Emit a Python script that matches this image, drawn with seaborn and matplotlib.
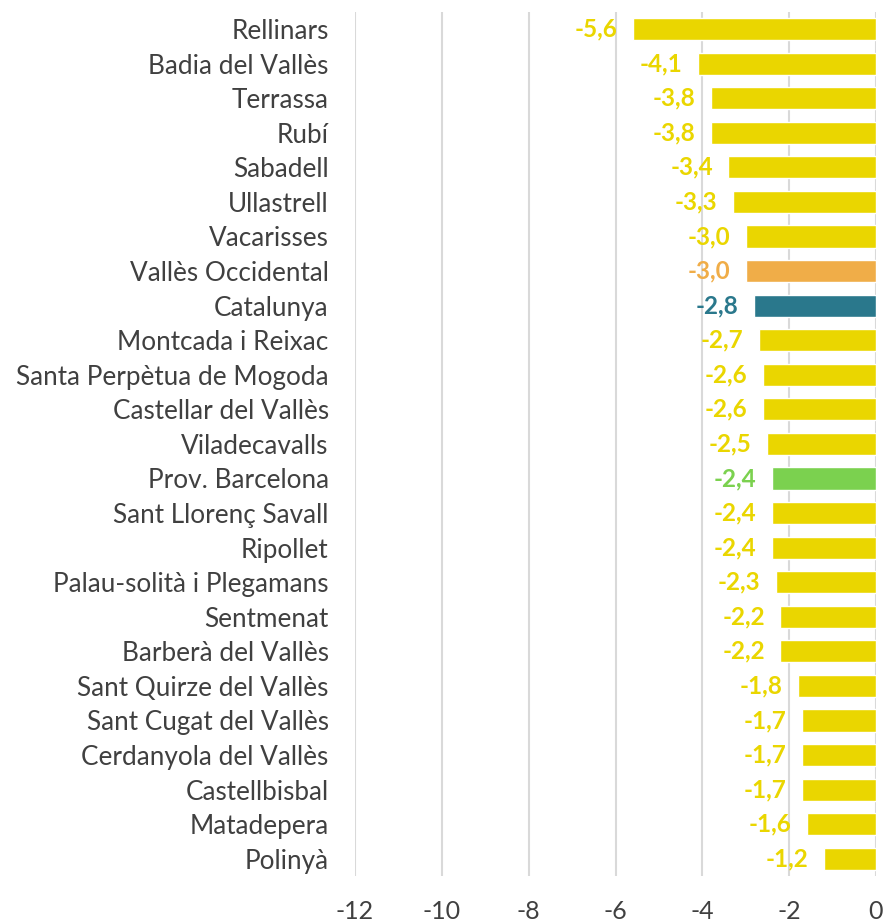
import matplotlib
matplotlib.use("Agg")
import matplotlib.pyplot as plt
import seaborn as sns
import pandas as pd

municipis = [
    "Rellinars", "Badia del Vallès", "Terrassa", "Rubí", "Sabadell", "Ullastrell",
    "Vacarisses", "Vallès Occidental", "Catalunya", "Montcada i Reixac",
    "Santa Perpètua de Mogoda", "Castellar del Vallès", "Viladecavalls",
    "Prov. Barcelona", "Sant Llorenç Savall", "Ripollet", "Palau-solità i Plegamans",
    "Sentmenat", "Barberà del Vallès", "Sant Quirze del Vallès", "Sant Cugat del Vallès",
    "Cerdanyola del Vallès", "Castellbisbal", "Matadepera", "Polinyà",
]
variacio = [
    -5.6, -4.1, -3.8, -3.8, -3.4, -3.3, -3.0, -3.0, -2.8, -2.7, -2.6, -2.6, -2.5,
    -2.4, -2.4, -2.4, -2.3, -2.2, -2.2, -1.8, -1.7, -1.7, -1.7, -1.6, -1.2,
]
x_ticks = [-12, -10, -8, -6, -4, -2, 0]

YELLOW = "#EAD600"
special = {
    "Vallès Occidental": "#F0AD48",
    "Catalunya": "#2A788C",
    "Prov. Barcelona": "#7BD14F",
}
colors = [special.get(m, YELLOW) for m in municipis]

df = pd.DataFrame({"municipi": municipis, "variacio": variacio})

sns.set_theme(style="white")
plt.rcParams["font.family"] = ["Lato", "DejaVu Sans"]

fig = plt.figure(figsize=(8.86, 9.23), dpi=100)
ax = fig.add_axes([0.4007, 0.0509, 0.5880, 0.9364])

sns.barplot(data=df, x="variacio", y="municipi", hue="municipi",
            palette=colors, legend=False, width=0.64, ax=ax, saturation=1)

ax.set_xlim(-12, 0)
ax.set_ylim(len(municipis) - 0.5, -0.5)
ax.set_xticks(x_ticks)
ax.set_xticklabels([str(t) for t in x_ticks])
ax.xaxis.grid(True, color="#D9D9D9", linewidth=1.5)
ax.set_axisbelow(True)
for s in ax.spines.values():
    s.set_visible(False)
ax.set_xlabel("")
ax.set_ylabel("")
ax.tick_params(axis="x", labelsize=18, colors="#404040", length=0, pad=17)
ax.tick_params(axis="y", labelsize=18.8, colors="#404040", length=0, pad=19)

for i, (v, c) in enumerate(zip(variacio, colors)):
    ax.text(v - 0.36, i, f"{v:.1f}".replace(".", ","), ha="right", va="center",
            color=c, fontsize=17.5, fontweight="bold")

fig.savefig("out.png", dpi=100)
